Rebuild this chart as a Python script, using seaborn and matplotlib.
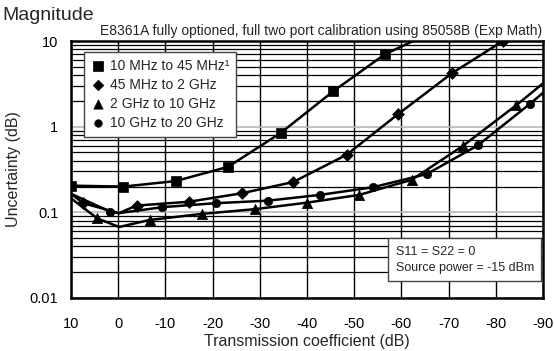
import pandas as pd
import matplotlib
matplotlib.use('Agg')
import matplotlib.pyplot as plt
import seaborn as sns
from matplotlib import font_manager
from matplotlib.ticker import LogLocator, NullFormatter

# marker positions (x = transmission dB, y = uncertainty dB)
sq_x = [10, -1.1, -12.2, -23.3, -34.5, -45.6, -56.5]
sq_y = [0.205, 0.20, 0.232, 0.34, 0.85, 2.6, 7.0]
dia_x = [7.4, -3.9, -15.0, -26.2, -37.1, -48.4, -59.3, -70.7, -81.5]
dia_y = [0.128, 0.120, 0.133, 0.167, 0.226, 0.47, 1.4, 4.2, 10.0]
tri_x = [4.4, -6.7, -17.8, -29.0, -40.1, -51.1, -62.2, -73.1, -84.4]
tri_y = [0.085, 0.0815, 0.096, 0.109, 0.13, 0.16, 0.24, 0.60, 1.79]
cir_x = [1.7, -9.4, -20.7, -31.8, -42.8, -53.9, -65.4, -76.3, -87.2]
cir_y = [0.102, 0.115, 0.128, 0.137, 0.16, 0.196, 0.28, 0.61, 1.84]

# extra curve points (start at left edge, dip at 0 dB, exit at frame)
sq_curve_x = sq_x + [-62.5]
sq_curve_y = sq_y + [10]
dia_curve_x = [10, 7.4, -0.2] + dia_x[1:]
dia_curve_y = [0.165, 0.128, 0.098] + dia_y[1:]
tri_curve_x = [10, 4.4, -0.2] + tri_x[1:] + [-90]
tri_curve_y = [0.146, 0.085, 0.0675] + tri_y[1:] + [3.2]
cir_curve_x = [10, 1.7, -0.2] + cir_x[1:] + [-90]
cir_curve_y = [0.165, 0.102, 0.098] + cir_y[1:] + [2.48]

labels = ['10 MHz to 45 MHz\u00b9', '45 MHz to 2 GHz', '2 GHz to 10 GHz', '10 GHz to 20 GHz']
markers = ['s', 'D', '^', 'o']
msizes = [55, 36, 55, 36]
x_ticks = [10, 0, -10, -20, -30, -40, -50, -60, -70, -80, -90]
y_ticks = [0.01, 0.1, 1, 10]
y_ticklabels = ['0.01', '0.1', '1', '10']

sns.set_theme(style='white')
names = {f.name for f in font_manager.fontManager.ttflist}
fam = 'Liberation Sans Narrow' if 'Liberation Sans Narrow' in names else 'Liberation Sans'
plt.rcParams['font.family'] = [fam, 'DejaVu Sans']

fig = plt.figure(figsize=(5.54, 3.51), dpi=100)
ax = fig.add_axes([0.128, 0.151, 0.852, 0.732])

curves = [(sq_curve_x, sq_curve_y), (dia_curve_x, dia_curve_y),
          (tri_curve_x, tri_curve_y), (cir_curve_x, cir_curve_y)]
points = [(sq_x, sq_y), (dia_x, dia_y), (tri_x, tri_y), (cir_x, cir_y)]

for (cx, cy), (px, py), m, s, lab in zip(curves, points, markers, msizes, labels):
    sns.lineplot(x=cx, y=cy, sort=False, color='black', lw=1.8, ax=ax, zorder=3)
    sns.scatterplot(x=px, y=py, marker=m, s=s, color='black', edgecolor='black',
                    linewidth=0.5, ax=ax, zorder=4, label=lab)

ax.set_yscale('log')
ax.set_ylim(0.01, 10)
ax.set_xlim(10, -90)
ax.set_xticks(x_ticks)
ax.set_xticklabels([str(t) for t in x_ticks])
ax.set_yticks(y_ticks)
ax.set_yticklabels(y_ticklabels)
ax.yaxis.set_minor_locator(LogLocator(base=10, subs=range(2, 10)))
ax.yaxis.set_minor_formatter(NullFormatter())
ax.tick_params(which='both', length=0, labelsize=10.5, colors='black')
ax.tick_params(axis='x', pad=14)
ax.tick_params(axis='y', pad=9)

ax.grid(True, which='minor', axis='y', color='black', lw=0.9)
ax.grid(True, which='major', axis='y', color='#b8b8b8', lw=1.2)
ax.grid(True, which='major', axis='x', color='black', lw=1.0)
ax.set_axisbelow(True)
for sp in ax.spines.values():
    sp.set_color('black')
    sp.set_linewidth(1.8)

ax.set_xlabel('Transmission coefficient (dB)', fontsize=11.5, labelpad=2)
ax.set_ylabel('Uncertainty (dB)', fontsize=11.5, labelpad=6)

leg = ax.legend(loc='upper left', bbox_to_anchor=(0.0275, 0.957), borderaxespad=0,
                frameon=True, fancybox=False, fontsize=10, handletextpad=0.35,
                labelspacing=0.35, borderpad=0.5, handlelength=1.0, markerscale=0.9)
leg.get_frame().set_edgecolor('#444444')
leg.get_frame().set_linewidth(1.0)
leg.get_frame().set_facecolor('white')
leg.get_frame().set_alpha(1)
leg.set_zorder(10)

ax.text(0.688, 0.095, 'S11 = S22 = 0\nSource power = -15 dBm', transform=ax.transAxes,
        fontsize=9, ha='left', va='bottom', linespacing=1.4, zorder=10,
        bbox=dict(boxstyle='square,pad=0.6', facecolor='white', edgecolor='#444444', lw=1.0))

fig.text(0.004, 0.957, 'Magnitude', fontsize=14, ha='left', va='center')
fig.text(0.58, 0.912, 'E8361A fully optioned, full two port calibration using 85058B (Exp Math)',
         fontsize=10, ha='center', va='center')

fig.savefig('out.png', dpi=100)
